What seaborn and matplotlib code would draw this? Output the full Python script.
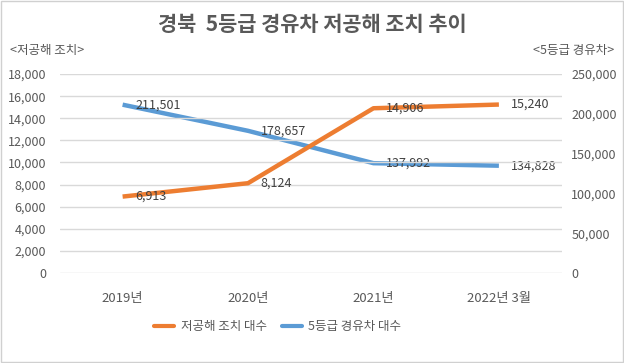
import pandas as pd
import matplotlib.pyplot as plt
import seaborn as sns
from matplotlib.lines import Line2D

# Data
years = ['2019년', '2020년', '2021년', '2022년 3월']
low_emission = [6913, 8124, 14906, 15240]
grade5_diesel = [211501, 178657, 137992, 134828]

df = pd.DataFrame({'pos': range(len(years)), 'year': years,
                   'low': low_emission, 'diesel': grade5_diesel})

sns.set_style('white')
plt.rcParams['font.family'] = ['Noto Sans CJK KR', 'DejaVu Sans']

orange = '#ED7D31'
blue = '#5B9BD5'
txt = '#595959'

fig = plt.figure(figsize=(6.24, 3.63), dpi=100)
ax = fig.add_axes([0.096, 0.248, 0.804, 0.548])
ax2 = ax.twinx()

# Blue first so orange sits over it like the original
sns.lineplot(data=df, x='pos', y='diesel', ax=ax2, color=blue, linewidth=3.2,
             solid_capstyle='butt')
sns.lineplot(data=df, x='pos', y='low', ax=ax, color=orange, linewidth=3.2,
             solid_capstyle='butt')
ax.set_zorder(ax2.get_zorder() + 1)
ax.patch.set_visible(False)

ax.set_xlim(-0.5, len(years) - 0.5)
ax.set_ylim(0, 18000)
ax2.set_ylim(0, 250000)
ax.set_yticks(range(0, 18001, 2000))
ax2.set_yticks(range(0, 250001, 50000))
ax.set_yticklabels([f'{v:,}' for v in range(0, 18001, 2000)])
ax2.set_yticklabels([f'{v:,}' for v in range(0, 250001, 50000)])
ax.set_xticks(df['pos'])
ax.set_xticklabels(years)

ax.grid(axis='y', color='#D9D9D9', linewidth=1)
ax.grid(axis='x', visible=False)
for a in (ax, ax2):
    for s in a.spines.values():
        s.set_visible(False)
    a.set_xlabel('')
    a.set_ylabel('')
    a.tick_params(length=0, labelsize=9, colors=txt)
ax.tick_params(axis='y', pad=10)
ax.tick_params(axis='x', pad=14, labelsize=9.5)
ax2.tick_params(axis='y', pad=7)

# Data labels
for i, v in zip(df['pos'], df['low']):
    ax.annotate(f'{v:,}', (i, v), xytext=(9, 0), textcoords='offset points',
                va='center', ha='left', fontsize=9, color='#404040')
for i, v in zip(df['pos'], df['diesel']):
    ax2.annotate(f'{v:,}', (i, v), xytext=(9, 0), textcoords='offset points',
                 va='center', ha='left', fontsize=9, color='#404040')

fig.text(0.5, 0.933, '경북  5등급 경유차 저공해 조치 추이', ha='center', va='center',
         fontsize=15, fontweight='bold', color=txt)
fig.text(0.016, 0.862, '<저공해 조치>', ha='left', va='center', fontsize=9, color=txt)
fig.text(0.984, 0.862, '<5등급 경유차>', ha='right', va='center', fontsize=9, color=txt)

handles = [Line2D([], [], color=orange, linewidth=3),
           Line2D([], [], color=blue, linewidth=3)]
fig.legend(handles, ['저공해 조치 대수', '5등급 경유차 대수'], loc='center',
           bbox_to_anchor=(0.445, 0.1), ncol=2, frameon=False, fontsize=9,
           handlelength=1.6, handletextpad=0.5, columnspacing=1.2, labelcolor=txt)

fig.patches.append(plt.Rectangle((0.002, 0.003), 0.996, 0.994, transform=fig.transFigure,
                                 fill=False, edgecolor='#D0D0D0', linewidth=1))

fig.savefig('out.png', dpi=100)
